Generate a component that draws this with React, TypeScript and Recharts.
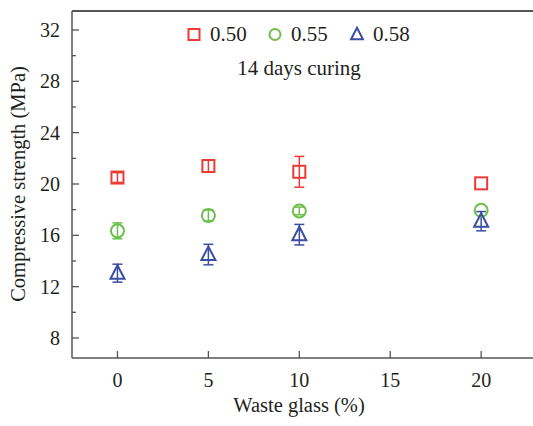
import React from 'react';
import { ScatterChart, Scatter, XAxis, YAxis, ErrorBar, ReferenceLine } from 'recharts';

const wasteGlass = [0, 5, 10, 20];
const strength050 = [20.5, 21.4, 20.95, 20.05];
const error050 = [0.38, 0.45, 1.2, 0];
const strength055 = [16.35, 17.55, 17.9, 17.95];
const error055 = [0.62, 0.43, 0.3, 0];
const strength058 = [13.05, 14.5, 16.05, 17.1];
const error058 = [0.7, 0.8, 0.8, 0.75];

const xTicks = [0, 5, 10, 15, 20];
const yTicks = [8, 10, 12, 14, 16, 18, 20, 22, 24, 26, 28, 30, 32];

const W = 533;
const H = 426;
const PLOT_LEFT = 72;
const PLOT_BOTTOM = 358;
const X_MIN = -2.5;
const X_MAX = 22.85;
const Y_MIN = 6.44;
const Y_MAX = 33.48;
const AXIS = '#555';
const TEXT = '#231f20';
const FONT = '"Liberation Serif", "Times New Roman", Tinos, serif';

const RED = '#ec3a35';
const GREEN = '#6cbf4a';
const BLUE = '#3a4ea3';

const toRows = (ys: number[], errs: number[]) =>
    wasteGlass.map((x, i) => ({ x, y: ys[i], err: errs[i] }));

const Square = ({ cx, cy, color, size = 12 }: any) => (
    <rect x={cx - size / 2} y={cy - size / 2} width={size} height={size} fill="none" stroke={color} strokeWidth={2} />
);
const Circle = ({ cx, cy, color, r = 6.5 }: any) => (
    <circle cx={cx} cy={cy} r={r} fill="none" stroke={color} strokeWidth={2} />
);
const Triangle = ({ cx, cy, color, s = 1 }: any) => (
    <polygon
        points={`${cx},${cy - 8 * s} ${cx - 7 * s},${cy + 5.5 * s} ${cx + 7 * s},${cy + 5.5 * s}`}
        fill="none"
        stroke={color}
        strokeWidth={2}
    />
);

const series = [
    { name: '0.50', color: RED, rows: toRows(strength050, error050), Shape: Square },
    { name: '0.55', color: GREEN, rows: toRows(strength055, error055), Shape: Circle },
    { name: '0.58', color: BLUE, rows: toRows(strength058, error058), Shape: Triangle },
];

const renderYTick = (props: any) => {
    const { y, payload } = props;
    const major = payload.value % 4 === 0;
    return (
        <g>
            <line x1={PLOT_LEFT} x2={PLOT_LEFT + (major ? 7 : 4)} y1={y} y2={y} stroke={AXIS} strokeWidth={1.3} />
            {major && (
                <text x={PLOT_LEFT - 12} y={y} dy="0.35em" textAnchor="end" fontSize={20} fill={TEXT} className="serif">
                    {payload.value}
                </text>
            )}
        </g>
    );
};

const renderXTick = (props: any) => {
    const { x, payload } = props;
    return (
        <g>
            <line x1={x} x2={x} y1={PLOT_BOTTOM} y2={PLOT_BOTTOM - 7} stroke={AXIS} strokeWidth={1.3} />
            <text x={x} y={380} dy="0.35em" textAnchor="middle" fontSize={20} fill={TEXT} className="serif">
                {payload.value}
            </text>
        </g>
    );
};

const legendPos = [194, 275, 357];

function LegendOverlay() {
    return (
        <div className="serif" style={{ position: 'absolute', left: 0, top: 0, width: W, height: 90, color: TEXT, pointerEvents: 'none' }}>
            {series.map((s, i) => (
                <div key={s.name} style={{ position: 'absolute', left: legendPos[i] - 8, top: 22, display: 'flex', alignItems: 'center' }}>
                    <svg width={16} height={16}>
                        <s.Shape cx={8} cy={8.5} color={s.color} size={11} r={5.5} s={0.85} />
                    </svg>
                    <span className="serif" style={{ marginLeft: 8, fontSize: 21, lineHeight: '24px' }}>{s.name}</span>
                </div>
            ))}
            <div className="serif" style={{ position: 'absolute', left: 0, width: 598, top: 55, textAlign: 'center', fontSize: 21, lineHeight: '26px' }}>
                14 days curing
            </div>
        </div>
    );
}

export default function App() {
    return (
        <div style={{ position: 'absolute', left: 0, top: 0, width: W, height: H, overflow: 'hidden', background: '#fff' }}>
            <style>{`.serif, .serif * , svg text { font-family: ${FONT} !important; }`}</style>
            <ScatterChart width={W} height={H} margin={{ top: 11, right: 0, bottom: 0, left: 0 }}>
                <XAxis
                    type="number"
                    dataKey="x"
                    domain={[X_MIN, X_MAX]}
                    ticks={xTicks}
                    allowDataOverflow
                    height={68}
                    stroke={AXIS}
                    strokeWidth={1.5}
                    tickLine={false}
                    tick={renderXTick}
                    label={{
                        content: () => (
                            <text x={299} y={412} textAnchor="middle" fontSize={20.5} fill={TEXT} className="serif">
                                Waste glass (%)
                            </text>
                        ),
                    }}
                />
                <YAxis
                    type="number"
                    dataKey="y"
                    domain={[Y_MIN, Y_MAX]}
                    ticks={yTicks}
                    allowDataOverflow
                    width={72}
                    stroke={AXIS}
                    strokeWidth={1.5}
                    tickLine={false}
                    tick={renderYTick}
                    label={{
                        content: () => (
                            <text
                                x={18}
                                y={184}
                                transform="rotate(-90 18 184)"
                                dy="0.35em"
                                textAnchor="middle"
                                fontSize={20.5}
                                fill={TEXT}
                                className="serif"
                            >
                                Compressive strength (MPa)
                            </text>
                        ),
                    }}
                />
                <ReferenceLine y={Y_MAX} stroke={AXIS} strokeWidth={2} />
                {series.map((s) => (
                    <Scatter
                        key={s.name}
                        name={s.name}
                        data={s.rows}
                        isAnimationActive={false}
                        shape={(p: any) => <s.Shape cx={p.cx} cy={p.cy} color={s.color} />}
                    >
                        <ErrorBar dataKey="err" direction="y" width={5} stroke={s.color} strokeWidth={1.5} />
                    </Scatter>
                ))}
            </ScatterChart>
            <LegendOverlay />
        </div>
    );
}
